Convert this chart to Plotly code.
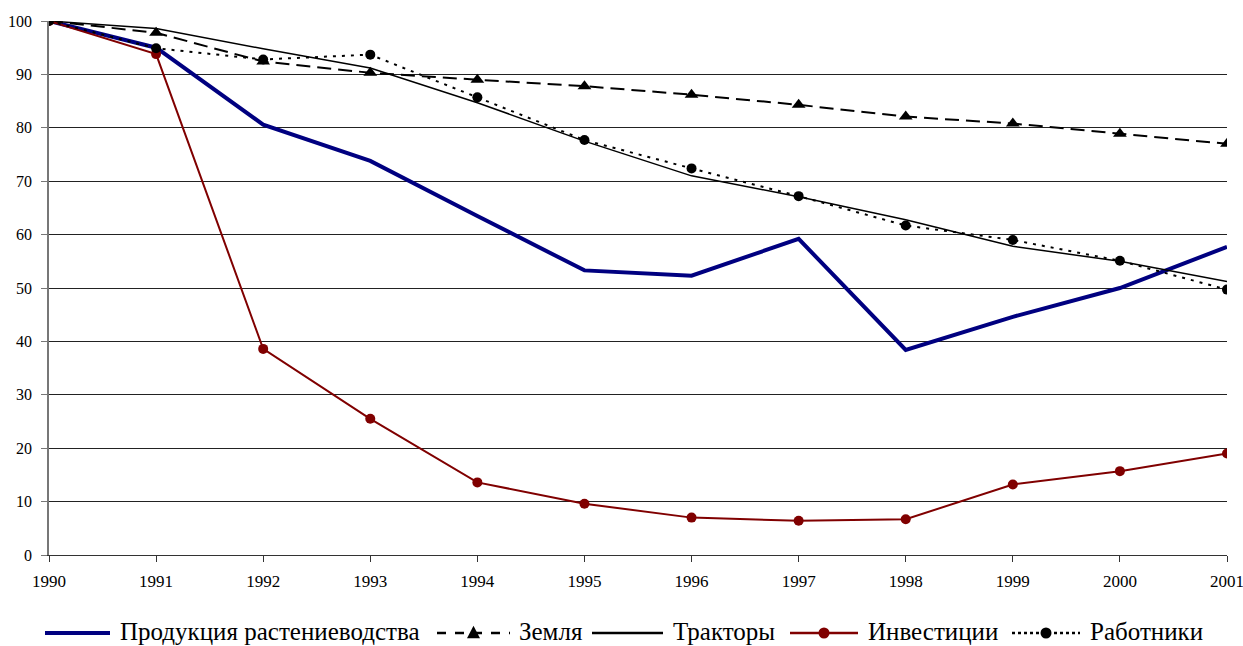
import plotly.graph_objects as go

# Index, 1990 = 100
years = [1990, 1991, 1992, 1993, 1994, 1995, 1996, 1997, 1998, 1999, 2000, 2001]

crop_output = [100, 95.0, 80.6, 73.8, 63.5, 53.3, 52.3, 59.2, 38.4, 44.6, 50.0, 57.7]
land = [100, 97.8, 92.4, 90.3, 89.0, 87.8, 86.2, 84.3, 82.1, 80.8, 78.9, 77.0]
tractors = [100, 98.6, 94.8, 91.2, 84.7, 77.5, 71.0, 67.1, 62.8, 57.8, 55.0, 51.2]
investment = [100, 93.8, 38.6, 25.5, 13.6, 9.6, 7.0, 6.4, 6.7, 13.2, 15.7, 19.0]
workers = [100, 94.9, 92.8, 93.7, 85.7, 77.7, 72.4, 67.2, 61.7, 59.0, 55.1, 49.7]

names = ["Продукция растениеводства", "Земля", "Тракторы", "Инвестиции", "Работники"]
y_ticks = list(range(0, 101, 10))

FONT = "Times New Roman"
W, H = 1243, 646
ML, MR, MT, MB = 49, 16, 21, 91
PW, PH = W - ML - MR, H - MT - MB

# per-series style: line colour, width, dash, marker symbol (None = no marker), marker size
styles = [
    dict(color="#000080", width=4, dash="solid", symbol=None, size=0),
    dict(color="black", width=2, dash="14px,7px", symbol="triangle-up", size=12),
    dict(color="black", width=1.5, dash="solid", symbol=None, size=0),
    dict(color="#800000", width=2, dash="solid", symbol="circle", size=10),
    dict(color="black", width=2, dash="3px,6px", symbol="circle", size=10),
]
series = [crop_output, land, tractors, investment, workers]

fig = go.Figure()
for name, vals, st in zip(names, series, styles):
    fig.add_trace(go.Scatter(
        x=years, y=vals, name=name,
        mode="lines+markers" if st["symbol"] else "lines",
        line=dict(color=st["color"], width=st["width"], dash=st["dash"]),
        marker=dict(symbol=st["symbol"] or "circle", size=st["size"], color=st["color"]),
        showlegend=False,
    ))


# Legend row drawn with shapes/annotations (pixel layout converted to paper units)
def px_x(px):
    return (px - ML) / PW


def px_y(py):
    return (H - MB - py) / PH


legend_y = 633
legend_text_y = 631
legend_items = [  # (line start px, line end px, text start px)
    (45, 110, 118),
    (437, 510, 517),
    (592, 663, 671),
    (790, 858, 866),
    (1012, 1080, 1088),
]
legend_dash = ["solid", "dash", "solid", "solid", "dot"]
shapes = []
annotations = []
for (x0, x1, xt), name, st, dsh in zip(legend_items, names, styles, legend_dash):
    shapes.append(dict(
        type="line", xref="paper", yref="paper",
        x0=px_x(x0), x1=px_x(x1), y0=px_y(legend_y), y1=px_y(legend_y),
        line=dict(color=st["color"], width=st["width"] if st["width"] > 2 else 2.5, dash=dsh),
    ))
    cx = (x0 + x1) / 2
    if st["symbol"] == "circle":
        r = 5.5
        shapes.append(dict(
            type="circle", xref="paper", yref="paper",
            x0=px_x(cx - r), x1=px_x(cx + r),
            y0=px_y(legend_y + r), y1=px_y(legend_y - r),
            fillcolor=st["color"], line=dict(color=st["color"], width=0),
        ))
    elif st["symbol"] == "triangle-up":
        h = 6.5
        path = "M {} {} L {} {} L {} {} Z".format(
            px_x(cx - h), px_y(legend_y + h * 0.8),
            px_x(cx + h), px_y(legend_y + h * 0.8),
            px_x(cx), px_y(legend_y - h * 1.1),
        )
        shapes.append(dict(
            type="path", xref="paper", yref="paper", path=path,
            fillcolor=st["color"], line=dict(color=st["color"], width=0),
        ))
    annotations.append(dict(
        text=name, xref="paper", yref="paper",
        x=px_x(xt), y=px_y(legend_text_y), xanchor="left", yanchor="middle",
        showarrow=False, font=dict(family=FONT, size=25, color="black"),
    ))

fig.update_layout(
    width=W, height=H,
    margin=dict(l=ML, r=MR, t=MT, b=MB, autoexpand=False),
    paper_bgcolor="white", plot_bgcolor="white",
    font=dict(family=FONT, color="black", size=16),
    showlegend=False,
    shapes=shapes,
    annotations=annotations,
    xaxis=dict(
        range=[1990, 2001], tickmode="array", tickvals=years,
        ticktext=[str(y) for y in years],
        showgrid=False, zeroline=False, automargin=False,
        showline=True, linecolor="#333333", linewidth=1,
        ticks="outside", ticklen=6, tickcolor="#333333",
        ticklabelstandoff=5, ticklabeloverflow="allow",
        tickfont=dict(family=FONT, size=17, color="black"),
    ),
    yaxis=dict(
        range=[0, 100], tickmode="array", tickvals=y_ticks,
        showgrid=True, gridcolor="#222222", gridwidth=1,
        zeroline=False, automargin=False,
        showline=True, linecolor="#777777", linewidth=1.5,
        ticks="outside", ticklen=6, tickcolor="#777777",
        ticklabelstandoff=6, ticklabeloverflow="allow",
        tickfont=dict(family=FONT, size=16, color="black"),
    ),
)

fig.write_html("out.html")
